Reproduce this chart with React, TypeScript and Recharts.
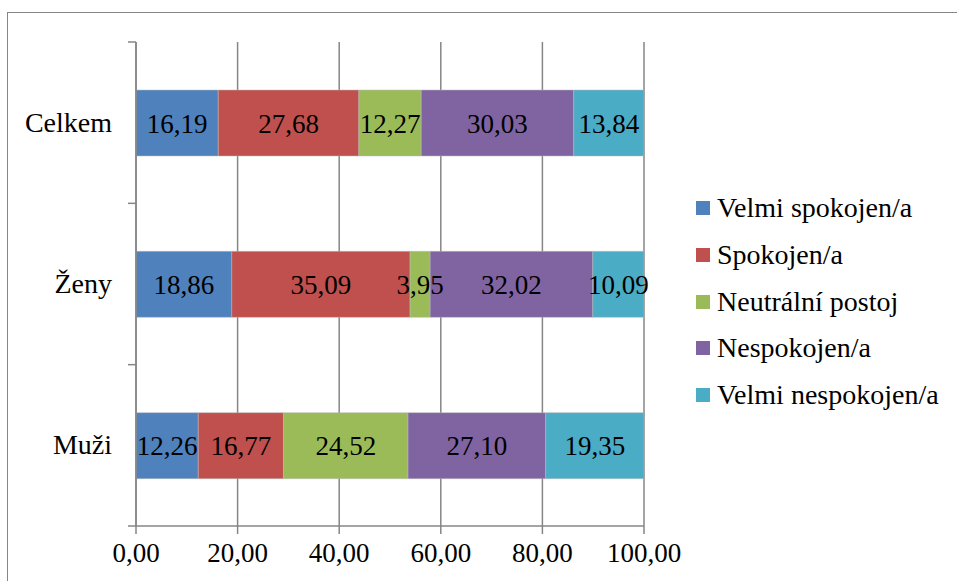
import React from 'react';
import { BarChart, Bar, XAxis, YAxis, CartesianGrid, LabelList } from 'recharts';

const categories = ['Celkem', 'Ženy', 'Muži'];
const seriesNames = ['Velmi spokojen/a', 'Spokojen/a', 'Neutrální postoj', 'Nespokojen/a', 'Velmi nespokojen/a'];
const velmiSpokojen = [16.19, 18.86, 12.26];
const spokojen = [27.68, 35.09, 16.77];
const neutralni = [12.27, 3.95, 24.52];
const nespokojen = [30.03, 32.02, 27.1];
const velmiNespokojen = [13.84, 10.09, 19.35];
const xTicks = [0, 20, 40, 60, 80, 100];

const COLORS = ['#4F81BD', '#C0504D', '#9BBB59', '#8064A2', '#4BACC6'];
const KEYS = ['s0', 's1', 's2', 's3', 's4'];
const GRAY = '#868686';
const FONT = '"Liberation Serif", "Times New Roman", serif';
const FS = 27;

const data = categories.map((name, i) => ({
  name,
  s0: velmiSpokojen[i],
  s1: spokojen[i],
  s2: neutralni[i],
  s3: nespokojen[i],
  s4: velmiNespokojen[i],
}));

const W = 957;
const H = 581;
const PLOT_LEFT = 136;
const PLOT_RIGHT = 644;
const PLOT_TOP = 42;
const PLOT_BOTTOM = 526;
const BAND = (PLOT_BOTTOM - PLOT_TOP) / categories.length;

const fmt = (v: number) => Number(v).toFixed(2).replace('.', ',');

function CategoryTick(props: any) {
  const { x, y, payload, index } = props;
  const top = y - BAND / 2;
  return (
    <g>
      <line x1={PLOT_LEFT - 8} x2={PLOT_LEFT} y1={top} y2={top} stroke={GRAY} strokeWidth={1.5} />
      {index === categories.length - 1 && (
        <line x1={PLOT_LEFT - 8} x2={PLOT_LEFT} y1={y + BAND / 2} y2={y + BAND / 2} stroke={GRAY} strokeWidth={1.5} />
      )}
      <text x={x} y={y} dy={9} textAnchor="end" fontSize={28} fontFamily={FONT} fill="#000">
        {payload.value}
      </text>
    </g>
  );
}

export default function App() {
  return (
    <div style={{ position: 'absolute', left: 0, top: 0, width: W, height: H, overflow: 'hidden', background: '#fff' }}>
      {/* outer frame, right and bottom edges fall outside the picture */}
      <div
        style={{
          position: 'absolute',
          left: 7,
          top: 12,
          width: W,
          height: H,
          borderLeft: `1.5px solid ${GRAY}`,
          borderTop: `1.5px solid ${GRAY}`,
        }}
      />
      <div style={{ position: 'absolute', left: 0, top: 0 }}>
        <BarChart
          width={W}
          height={H}
          data={data}
          layout="vertical"
          margin={{ top: PLOT_TOP, right: W - PLOT_RIGHT, bottom: H - PLOT_BOTTOM - 45, left: 0 }}
          barSize={66}
        >
          <CartesianGrid horizontal={false} stroke={GRAY} strokeWidth={1.5} />
          <XAxis
            type="number"
            domain={[0, 100]}
            ticks={xTicks}
            allowDataOverflow
            tickFormatter={fmt}
            stroke={GRAY}
            strokeWidth={1.5}
            tickSize={8}
            height={45}
            tick={{ fill: '#000', fontSize: FS, fontFamily: FONT }}
            tickMargin={9}
          />
          <YAxis
            type="category"
            dataKey="name"
            width={PLOT_LEFT}
            stroke={GRAY}
            strokeWidth={1.5}
            tickLine={false}
            tick={<CategoryTick />}
            tickMargin={18}
          />
          {KEYS.map((k, i) => (
            <Bar key={k} dataKey={k} name={seriesNames[i]} stackId="a" fill={COLORS[i]} stroke="#b8b8b8" strokeWidth={0.5} isAnimationActive={false}>
              <LabelList
                dataKey={k}
                position="center"
                formatter={fmt}
                fill="#000"
                fontSize={FS}
                fontFamily={FONT}
              />
            </Bar>
          ))}
        </BarChart>
      </div>
      {/* legend */}
      <div style={{ position: 'absolute', left: 696, top: 185, fontFamily: FONT, fontSize: 28, color: '#000' }}>
        {seriesNames.map((n, i) => (
          <div key={n} style={{ display: 'flex', alignItems: 'center', height: 46.7, whiteSpace: 'nowrap' }}>
            <div style={{ width: 14, height: 14, background: COLORS[i], marginRight: 7 }} />
            <span>{n}</span>
          </div>
        ))}
      </div>
    </div>
  );
}
